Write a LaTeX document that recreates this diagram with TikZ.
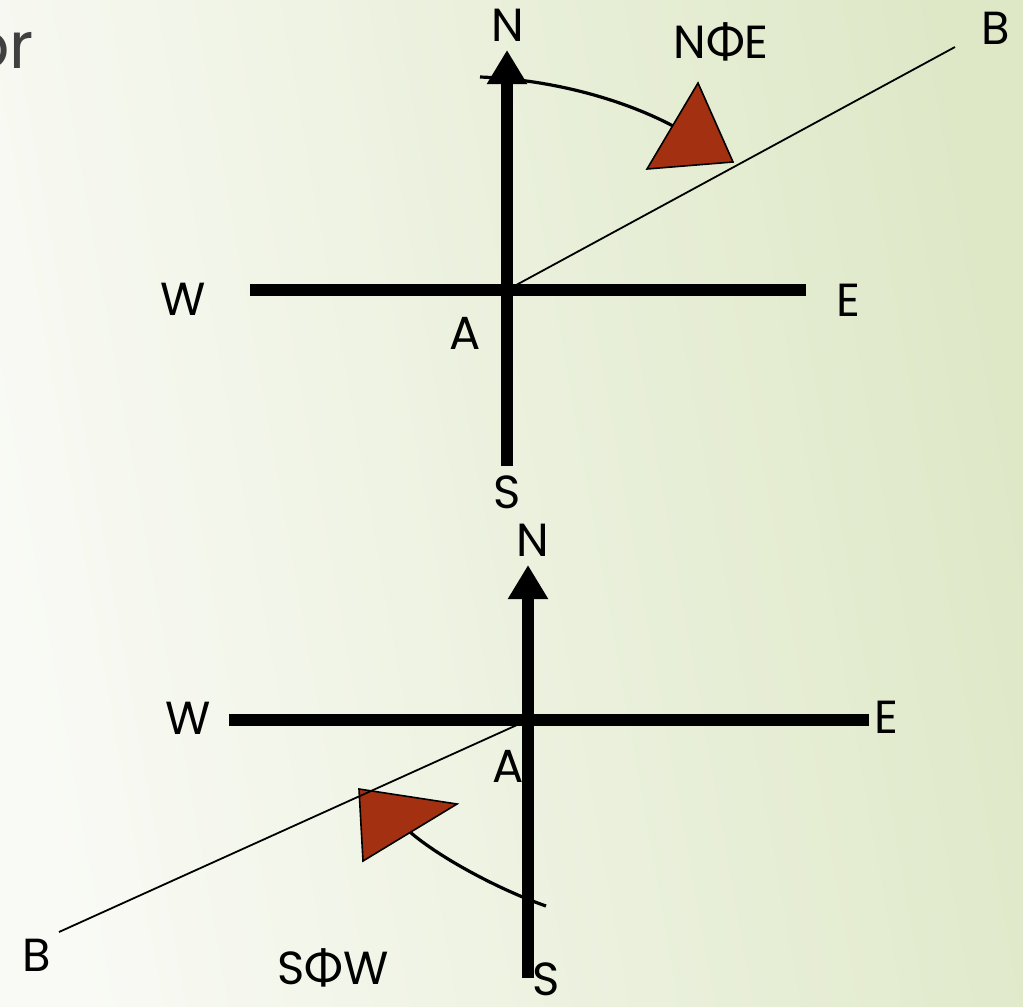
\documentclass[tikz,border=0pt]{standalone}
\usepackage{fontspec}
\setmainfont{Poppins}
\newfontfamily\grkfont{Lato}
\usetikzlibrary{arrows.meta}

\definecolor{bgleft}{RGB}{249,250,245}
\definecolor{bgright}{RGB}{222,232,199}
\definecolor{flag}{RGB}{163,48,16}
\definecolor{titlegray}{RGB}{64,64,64}

\tikzset{
  axis/.style={line width=0.3cm},
  north/.style={line width=0.3cm, -{Triangle[width=0.95cm,length=0.85cm]}},
  bearing/.style={line width=0.08cm},
  flagtri/.style={fill=flag, draw=black, line width=0.04cm, line join=miter},
  ray/.style={line width=0.045cm},
  lbl/.style={font=\fontsize{33}{40}\selectfont, inner sep=0pt}
}

\begin{document}
\begin{tikzpicture}[x=0.025cm, y=-0.025cm]
    % Frame and background
    \clip (0, 0) rectangle (1023, 1006);
    \shade[left color=bgleft, right color=bgright, shading angle=100] (0, 0) rectangle (1023, 1006);

    % Title remnant
    \node[anchor=base east, text=titlegray, font=\fontsize{46}{50}\selectfont, inner sep=0pt] (title) at (34, 68) {or};

    % Upper compass
    \coordinate (A1) at (507, 290);
    \coordinate (N1) at (507, 50);
    \coordinate (S1) at (507, 466);
    \coordinate (W1) at (250, 290);
    \coordinate (E1) at (806, 290);
    \coordinate (B1) at (955, 47);
    \draw[axis] (W1) -- (E1);
    \draw[axis] (S1) -- (A1);
    \draw[north] (A1) -- (N1);

    % Upper bearing arc and flag
    \coordinate (arc1s) at (480, 77);
    \coordinate (arc1e) at (673, 126);
    \draw[bearing] (arc1s) .. controls (560, 80) and (630, 103) .. (arc1e);
    \draw[flagtri] (698, 83) -- (733, 162) -- (647, 169) -- cycle;
    \draw[ray] (A1) -- (B1);

    % Upper labels
    \node[lbl] (n1) at (508, 25) {N};
    \node[lbl] (s1) at (507, 492) {S};
    \node[lbl] (w1) at (183, 299) {W};
    \node[lbl] (e1) at (848, 300) {E};
    \node[lbl] (a1) at (465, 333) {A};
    \node[lbl] (b1) at (996, 28) {B};
    \node[lbl] (brg1) at (721, 42) {N{\grkfont Φ}E};

    % Lower compass
    \coordinate (A2) at (528, 720);
    \coordinate (N2) at (528, 565);
    \coordinate (S2) at (528, 978);
    \coordinate (W2) at (229, 720);
    \coordinate (E2) at (869, 720);
    \coordinate (B2) at (59, 932);
    \draw[axis] (W2) -- (E2);
    \draw[axis] (S2) -- (A2);
    \draw[north] (A2) -- (N2);

    % Lower bearing arc and flag
    \coordinate (arc2s) at (546, 906);
    \coordinate (arc2e) at (410, 832);
    \draw[bearing] (arc2s) .. controls (500, 890) and (440, 858) .. (arc2e);
    \draw[flagtri] (359, 789) -- (457, 804) -- (363, 861) -- cycle;
    \draw[ray] (A2) -- (B2);

    % Lower labels
    \node[lbl] (n2) at (533, 540) {N};
    \node[lbl] (s2) at (546, 979) {S};
    \node[lbl] (w2) at (188, 718) {W};
    \node[lbl] (e2) at (886, 717) {E};
    \node[lbl] (a2) at (508, 766) {A};
    \node[lbl] (b2) at (37, 955) {B};
    \node[lbl] (brg2) at (333, 968) {S{\grkfont Φ}W};
\end{tikzpicture}
\end{document}
